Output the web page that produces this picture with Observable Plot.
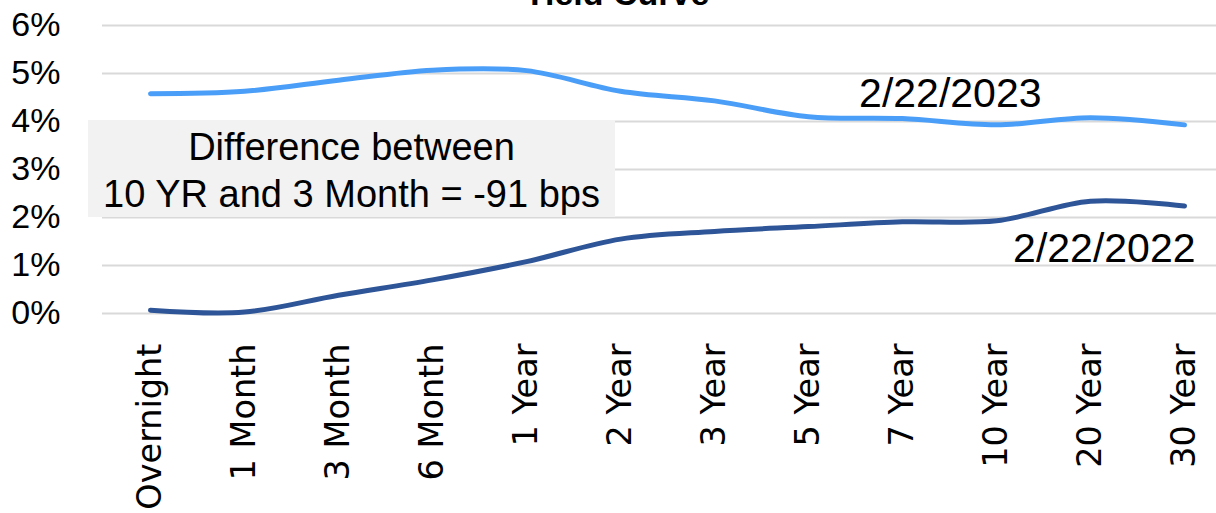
<!DOCTYPE html>
<html>
<head>
<meta charset="utf-8">
<script src="https://cdn.jsdelivr.net/npm/d3@7"></script>
<script src="https://cdn.jsdelivr.net/npm/@observablehq/plot@0.6"></script>
<style>
  html, body { margin: 0; padding: 0; background: #fff; overflow: hidden; }
  #wrap { position: relative; width: 1216px; height: 513px; }
  #note {
    position: absolute; left: 88px; top: 120px; width: 527px; height: 97px;
    background: #f2f2f2; color: #000; text-align: center;
    font-family: "Liberation Sans", Arial, sans-serif; font-size: 38px; line-height: 47px;
    padding-top: 4px; box-sizing: border-box;
  }
</style>
</head>
<body>
<div id="wrap"></div>
<script>
const categories = ["Overnight","1 Month","3 Month","6 Month","1 Year","2 Year","3 Year","5 Year","7 Year","10 Year","20 Year","30 Year"];
const y2023 = [4.58, 4.63, 4.86, 5.07, 5.06, 4.63, 4.43, 4.10, 4.06, 3.93, 4.08, 3.93];
const y2022 = [0.07, 0.03, 0.38, 0.70, 1.08, 1.55, 1.71, 1.81, 1.91, 1.93, 2.34, 2.24];
const yTicks = [0, 1, 2, 3, 4, 5, 6];
const seriesNames = ["2/22/2023", "2/22/2022"];
const title = "Yield Curve";
const noteLines = ["Difference between", "10 YR and 3 Month = -91 bps"];

const data2023 = categories.map((c, i) => ({cat: c, v: y2023[i]}));
const data2022 = categories.map((c, i) => ({cat: c, v: y2022[i]}));

const chart = Plot.plot({
  width: 1216,
  height: 513,
  marginLeft: 102,
  marginRight: 0,
  marginTop: 25,
  marginBottom: 200,
  style: {fontFamily: "'Liberation Sans', Arial, sans-serif", background: "#fff", color: "#000"},
  x: {type: "point", domain: categories, range: [102, 1232], padding: 0.5},
  y: {domain: [0, 6]},
  marks: [
    Plot.ruleY(yTicks, {stroke: "#d9d9d9", strokeWidth: 2, strokeOpacity: 1}),
    Plot.axisY(yTicks, {tickSize: 0, tickPadding: 42, fontSize: 34, tickFormat: d => d + "%", label: null}),
    Plot.axisX({tickSize: 0, tickPadding: 30, tickRotate: -90, fontSize: 33.5, fontFamily: "'DejaVu Sans', sans-serif", label: null}),
    Plot.line(data2023, {x: "cat", y: "v", stroke: "#4A9EF8", strokeWidth: 5, curve: "catmull-rom"}),
    Plot.line(data2022, {x: "cat", y: "v", stroke: "#2E5597", strokeWidth: 5, curve: "catmull-rom"}),
    Plot.text([seriesNames[0]], {x: () => "10 Year", y: () => 4.3, textAnchor: "end", lineAnchor: "bottom", dx: 45, fontSize: 41}),
    Plot.text([seriesNames[1]], {x: () => "30 Year", y: () => 1.07, textAnchor: "end", lineAnchor: "bottom", dx: 11, fontSize: 41}),
    Plot.text([title], {frameAnchor: "top", dx: -43, dy: -21, lineAnchor: "bottom", fontSize: 34, fontWeight: "bold"})
  ]
});
const wrap = document.getElementById("wrap");
wrap.appendChild(chart);
const note = document.createElement("div");
note.id = "note";
note.innerHTML = noteLines.join("<br>");
wrap.appendChild(note);
</script>
</body>
</html>
